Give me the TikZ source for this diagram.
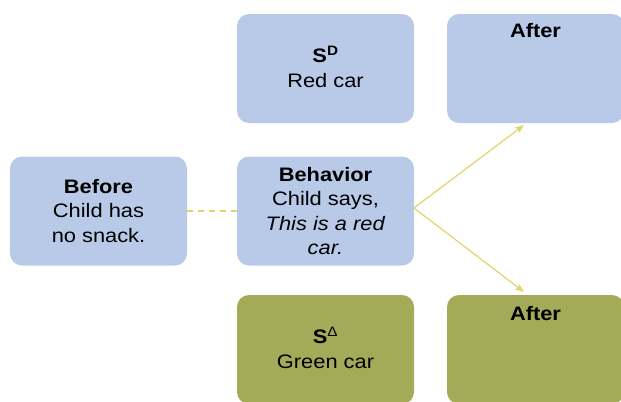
\documentclass[tikz,border=0pt]{standalone}
\usepackage{fontspec}
\setmainfont{Liberation Sans}[FakeStretch=1.12]
\usetikzlibrary{arrows.meta}
\definecolor{boxblue}{RGB}{185,202,232}
\definecolor{boxolive}{RGB}{164,170,88}
\definecolor{linkyellow}{RGB}{226,212,108}
\tikzset{
  cardfont/.style={font=\fontsize{19.5bp}{24.5bp}\selectfont},
  card/.style={cardfont, rounded corners=12bp, minimum width=177bp, minimum height=109bp,
    inner sep=0pt, align=center},
  bluecard/.style={card, fill=boxblue},
  olivecard/.style={card, fill=boxolive},
  cardtitle/.style={cardfont, anchor=base, inner sep=0pt},
  link/.style={draw=linkyellow, line width=1.2bp},
  tip/.style={-{Stealth[length=9bp,width=7bp,inset=2bp]}, fill=linkyellow}
}
\begin{document}
\begin{tikzpicture}[x=1bp,y=-1bp]
  \useasboundingbox (0,0) rectangle (621,401);
  % top row
  \node[bluecard] (sd) at (325.5,68.5) {\textbf{S\smash{\textsuperscript{D}}}\\Red car};
  \node[bluecard] (aftertop) at (535.5,68.5) {};
  \node[cardtitle] (aftertoplabel) at (535.5,37) {\textbf{After}};
  % middle row
  \node[bluecard] (before) at (98.5,211) {\textbf{Before}\\Child has\\no snack.};
  \node[bluecard] (behavior) at (325.5,211) {\textbf{Behavior}\\Child says,\\\textit{This is a red}\\\textit{car.}};
  % bottom row
  \node[olivecard] (sdelta) at (325.5,349.5) {\textbf{S}\smash{\textsuperscript{Δ}}\\Green car};
  \node[olivecard] (afterbot) at (535.5,349.5) {};
  \node[cardtitle] (afterbotlabel) at (535.5,320) {\textbf{After}};
  % connectors
  \coordinate (fork) at (414,208);
  \coordinate (uptip) at (524,125);
  \coordinate (downtip) at (524,292);
  \draw[link, dash pattern=on 6bp off 5bp] (before.east) -- (behavior.west);
  \draw[link, tip] (fork) -- (uptip);
  \draw[link, tip] (fork) -- (downtip);
\end{tikzpicture}
\end{document}
